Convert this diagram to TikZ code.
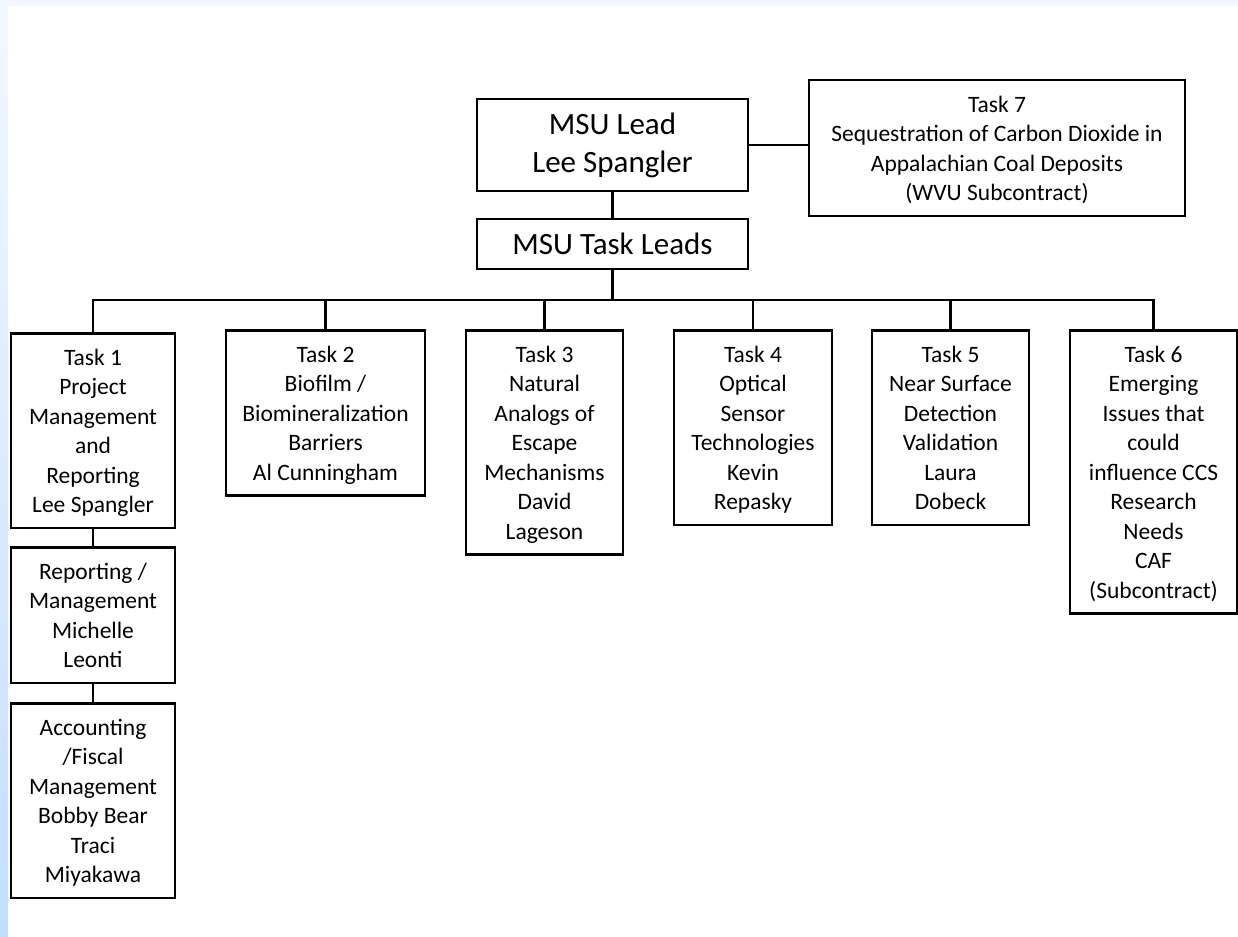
\documentclass[tikz,border=0pt]{standalone}
\usepackage{fontspec}
\setmainfont{Carlito}

\definecolor{edgeLight}{RGB}{243,248,255}
\definecolor{edgeDark}{RGB}{195,222,255}

\begin{document}
\begin{tikzpicture}
[x=1pt, y=-1pt,
 every node/.style={inner sep=0pt},
 box/.style={draw=black, line width=2.5pt, anchor=north, align=flush center, inner xsep=4pt,
   font=\fontsize{23.5}{29.5}\selectfont,
   execute at begin node={\rule{0pt}{32pt}},
   execute at end node={\rule[-15pt]{0pt}{0pt}}},
 head/.style={draw=black, line width=2.5pt, align=flush center, minimum width=271pt,
   font=\fontsize{31}{38}\selectfont},
 link/.style={line width=2.5pt, color=black}]
\useasboundingbox (0,0) rectangle (1238,936);
% page edges
\fill[white] (0,0) rectangle (1238,936);
\shade[top color=edgeLight, bottom color=edgeDark] (0,0) rectangle (8,936);
\fill[edgeLight] (0,0) rectangle (1238,6);

\node (lead) [head, minimum height=92pt] at (612.5, 145) {MSU Lead\\Lee Spangler};
\node (leads) [head, minimum height=50pt] at (612.5, 244) {MSU Task Leads};
\node (t7) [box, text width=368pt] at (997, 79) {Task 7\\Sequestration of Carbon Dioxide in\\Appalachian Coal Deposits\\(WVU Subcontract)};

\node (t1) [box, text width=156pt] at (93, 332) {Task 1\\Project\\Management\\and\\Reporting\\Lee Spangler};
\node (t2) [box, text width=191pt] at (325.5, 329) {Task 2\\Biofilm /\\Biomineralization\\Barriers\\Al Cunningham};
\node (t3) [box, text width=149pt] at (544.5, 329) {Task 3\\Natural\\Analogs of\\Escape\\Mechanisms\\David\\Lageson};
\node (t4) [box, text width=150pt] at (753, 329) {Task 4\\Optical\\Sensor\\Technologies\\Kevin\\Repasky};
\node (t5) [box, text width=149pt] at (950.5, 329) {Task 5\\Near Surface\\Detection\\Validation\\Laura\\Dobeck};
\node (t6) [box, text width=159pt] at (1153.5, 329) {Task 6\\Emerging\\Issues that\\could\\influence CCS\\Research\\Needs\\CAF\\(Subcontract)};

\node (rep) [box, text width=156pt] at (93, 546) {Reporting /\\Management\\Michelle\\Leonti};
\node (acc) [box, text width=156pt] at (93, 702) {Accounting\\/Fiscal\\Management\\Bobby Bear\\Traci\\Miyakawa};

% connectors
\draw[link] (lead) -- (leads);
\draw[link] (lead.east) -- (lead.east -| t7.west);
\coordinate (bus) at (612.5, 300);
\foreach \t in {t1,t2,t3,t4,t5,t6}
  \draw[link] (leads.south) -- (bus) -| (\t.north);
\draw[link] (t1) -- (rep);
\draw[link] (rep) -- (acc);
\end{tikzpicture}
\end{document}
